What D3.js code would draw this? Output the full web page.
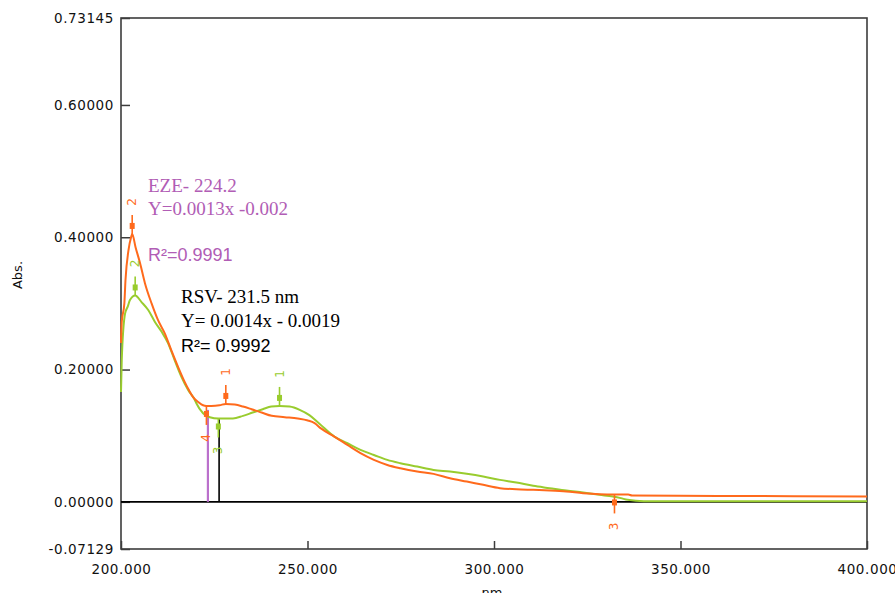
<!DOCTYPE html>
<html>
<head>
<meta charset="utf-8">
<script src="https://cdn.jsdelivr.net/npm/d3@7"></script>
<style>
  html, body { margin: 0; padding: 0; background: #fff; }
  svg { display: block; }
</style>
</head>
<body>
<svg id="chart" width="895" height="593"></svg>
<script>
// ---------- data ----------
const yTickValues = [-0.07129, 0.0, 0.2, 0.4, 0.6, 0.73145];
const xTickValues = [200, 250, 300, 350, 400];

// EZE (orange) spectrum
const ezeWl  = [200.0, 200.2, 200.9, 201.2, 202.0, 202.7, 203.0, 203.9, 205.1, 206.4, 208.2, 209.9, 211.7, 213.5, 215.3, 217.1, 218.2, 219.5, 220.7, 222.0, 222.9, 224.2, 226.4, 228.1, 230.5, 232.7, 235.0, 237.7, 240.4, 243.9, 247.4, 250.1, 251.9, 253.6, 257.2, 260.7, 264.2, 267.8, 271.4, 274.9, 279.4, 283.8, 288.2, 292.7, 297.1, 301.6, 306.0, 310.5, 314.9, 319.4, 323.9, 328.3, 332.3, 336.0, 337.0, 360.0, 400.0];
const ezeAbs = [0.240, 0.272, 0.300, 0.335, 0.380, 0.400, 0.405, 0.385, 0.361, 0.331, 0.300, 0.275, 0.255, 0.229, 0.204, 0.181, 0.169, 0.157, 0.151, 0.146, 0.145, 0.145, 0.146, 0.148, 0.147, 0.144, 0.140, 0.135, 0.130, 0.128, 0.126, 0.123, 0.119, 0.111, 0.0986, 0.086, 0.0735, 0.0634, 0.0558, 0.0508, 0.0458, 0.0423, 0.0357, 0.0307, 0.0257, 0.0207, 0.0191, 0.0181, 0.0171, 0.0156, 0.0131, 0.0116, 0.0112, 0.0112, 0.0095, 0.009, 0.008];

// RSV (green) spectrum
const rsvWl  = [200.0, 200.2, 201.1, 201.8, 202.4, 203.8, 205.5, 207.3, 209.1, 210.9, 212.6, 214.4, 216.2, 218.0, 219.8, 220.2, 222.0, 223.8, 226.1, 230.0, 232.7, 235.3, 238.0, 240.3, 242.5, 245.2, 247.9, 250.5, 253.2, 257.2, 260.7, 264.2, 267.8, 271.4, 274.9, 279.4, 283.8, 288.2, 292.7, 297.1, 301.6, 306.0, 310.5, 314.9, 319.4, 323.9, 328.3, 331.9, 334.0, 335.8, 340.2, 400.0];
const rsvAbs = [0.166, 0.214, 0.285, 0.295, 0.305, 0.312, 0.302, 0.290, 0.272, 0.257, 0.240, 0.214, 0.189, 0.169, 0.154, 0.149, 0.134, 0.128, 0.126, 0.126, 0.130, 0.135, 0.140, 0.144, 0.145, 0.144, 0.139, 0.131, 0.118, 0.0986, 0.0886, 0.0785, 0.0709, 0.0634, 0.0584, 0.0533, 0.0483, 0.0458, 0.0423, 0.0382, 0.0332, 0.0292, 0.0242, 0.0207, 0.0171, 0.014, 0.0106, 0.008, 0.0056, 0.003, 0.0008, 0.0008];

// peak / valley picks
const ezeMarkNm    = [203.0, 228.1, 332.3, 222.9];
const ezeMarkAbs   = [0.405, 0.148, 0.0112, 0.145];
const ezeMarkLabel = ["2", "1", "3", "4"];
const ezeMarkType  = ["peak", "peak", "valley", "valley"];

const rsvMarkNm    = [203.8, 242.5, 226.1];
const rsvMarkAbs   = [0.312, 0.145, 0.126];
const rsvMarkLabel = ["2", "1", "3"];
const rsvMarkType  = ["peak", "peak", "valley"];

// drop lines (wavelength, absorbance)
const dropNm  = [223.3, 226.3];
const dropAbs = [0.139, 0.125];

// annotations
const ezeNotes = ["EZE- 224.2", "Y=0.0013x -0.002", "R²=0.9991"];
const rsvNotes = ["RSV- 231.5 nm", "Y= 0.0014x - 0.0019", "R²= 0.9992"];

// ---------- drawing ----------
const ORANGE = "#ff6a1c";
const GREEN  = "#99cc2e";
const PURPLE = "#b15db5";
const FRAME  = "#3c3c3c";

const svg = d3.select("#chart");
const L = 121, R = 867, T = 18, B = 549;

const x = d3.scaleLinear().domain([200, 400]).range([L, R]);
const y = d3.scaleLinear().domain([-0.07129, 0.73145]).range([B, T]);

const tickFont = "DejaVu Sans, sans-serif";

// y axis
const yAxis = d3.axisLeft(y)
  .tickValues(yTickValues)
  .tickSizeInner(-9).tickSizeOuter(0).tickPadding(7)
  .tickFormat(d => d.toFixed(5));
const gy = svg.append("g").attr("transform", `translate(${L},0)`).call(yAxis);
gy.select(".domain").remove();
gy.selectAll("line").attr("stroke", FRAME).attr("stroke-width", 1.5);
gy.selectAll("text").attr("font-family", tickFont).attr("font-size", 13.5)
  .attr("letter-spacing", "0.6px").attr("fill", "#111");

// x axis
const xAxis = d3.axisBottom(x)
  .tickValues(xTickValues)
  .tickSizeInner(-8).tickSizeOuter(0).tickPadding(15)
  .tickFormat(d => d.toFixed(3));
const gx = svg.append("g").attr("transform", `translate(0,${B})`).call(xAxis);
gx.select(".domain").remove();
gx.selectAll("line").attr("stroke", FRAME).attr("stroke-width", 1.5);
gx.selectAll("text").attr("font-family", tickFont).attr("font-size", 13.5)
  .attr("letter-spacing", "0.6px").attr("fill", "#111");

// frame
svg.append("rect")
  .attr("x", L).attr("y", T).attr("width", R - L).attr("height", B - T)
  .attr("fill", "none").attr("stroke", FRAME).attr("stroke-width", 1.6);

// axis titles
svg.append("text")
  .attr("transform", `translate(22,${275}) rotate(-90)`)
  .attr("text-anchor", "middle")
  .attr("font-family", tickFont).attr("font-size", 13).attr("fill", "#111")
  .text("Abs.");
svg.append("text")
  .attr("x", x(300)).attr("y", 597)
  .attr("text-anchor", "middle")
  .attr("font-family", tickFont).attr("font-size", 13).attr("fill", "#111")
  .text("nm.");

// zero line
svg.append("line")
  .attr("x1", x(200)).attr("x2", x(400)).attr("y1", y(0)).attr("y2", y(0))
  .attr("stroke", "#000").attr("stroke-width", 1.6);

// drop lines
svg.append("line")
  .attr("x1", x(dropNm[0])).attr("x2", x(dropNm[0]))
  .attr("y1", y(0)).attr("y2", y(dropAbs[0]))
  .attr("stroke", "#bb70cc").attr("stroke-width", 2.2);
svg.append("line")
  .attr("x1", x(dropNm[1])).attr("x2", x(dropNm[1]))
  .attr("y1", y(0)).attr("y2", y(dropAbs[1]))
  .attr("stroke", "#000").attr("stroke-width", 1.6);

// spectra
const line = d3.line().x(d => x(d[0])).y(d => y(d[1])).curve(d3.curveMonotoneX);
const rsvData = rsvWl.map((w, i) => [w, rsvAbs[i]]);
const ezeData = ezeWl.map((w, i) => [w, ezeAbs[i]]);

svg.append("path").datum(rsvData)
  .attr("d", line).attr("fill", "none").attr("stroke", GREEN).attr("stroke-width", 2);
svg.append("path").datum(ezeData)
  .attr("d", line).attr("fill", "none").attr("stroke", ORANGE).attr("stroke-width", 2);

// markers
function drawMarks(nms, abss, labels, types, color) {
  nms.forEach((nm, i) => {
    const cx = x(nm), cy = y(abss[i]);
    const s = types[i] === "peak" ? -1 : 1;
    const g = svg.append("g");
    g.append("line")
      .attr("x1", cx).attr("x2", cx).attr("y1", cy).attr("y2", cy + s * 19)
      .attr("stroke", color).attr("stroke-width", 1.6);
    g.append("rect")
      .attr("x", cx - 2.5).attr("y", cy + s * 8 - 3).attr("width", 5).attr("height", 6)
      .attr("fill", color);
    g.append("text")
      .attr("transform", `translate(${cx + 4},${cy + s * 32}) rotate(-90)`)
      .attr("text-anchor", "middle")
      .attr("font-family", "DejaVu Sans, sans-serif").attr("font-size", 12)
      .attr("fill", color)
      .text(labels[i]);
  });
}
drawMarks(rsvMarkNm, rsvMarkAbs, rsvMarkLabel, rsvMarkType, GREEN);
drawMarks(ezeMarkNm, ezeMarkAbs, ezeMarkLabel, ezeMarkType, ORANGE);

// annotations
const serif = "Liberation Serif, Times New Roman, serif";
const sans = "Liberation Sans, Arial, sans-serif";
const ezeY = [192, 215, 261];
const rsvY = [303, 327, 352];
ezeNotes.forEach((t, i) => {
  svg.append("text").attr("x", 148).attr("y", ezeY[i])
    .attr("font-family", t.startsWith("R") ? sans : serif)
    .attr("font-size", t.startsWith("R") ? 18 : 19)
    .attr("fill", PURPLE).text(t);
});
rsvNotes.forEach((t, i) => {
  svg.append("text").attr("x", 181).attr("y", rsvY[i])
    .attr("font-family", t.startsWith("R²") ? sans : serif)
    .attr("font-size", t.startsWith("R²") ? 18 : 19)
    .attr("fill", "#000").text(t);
});
</script>
</body>
</html>
